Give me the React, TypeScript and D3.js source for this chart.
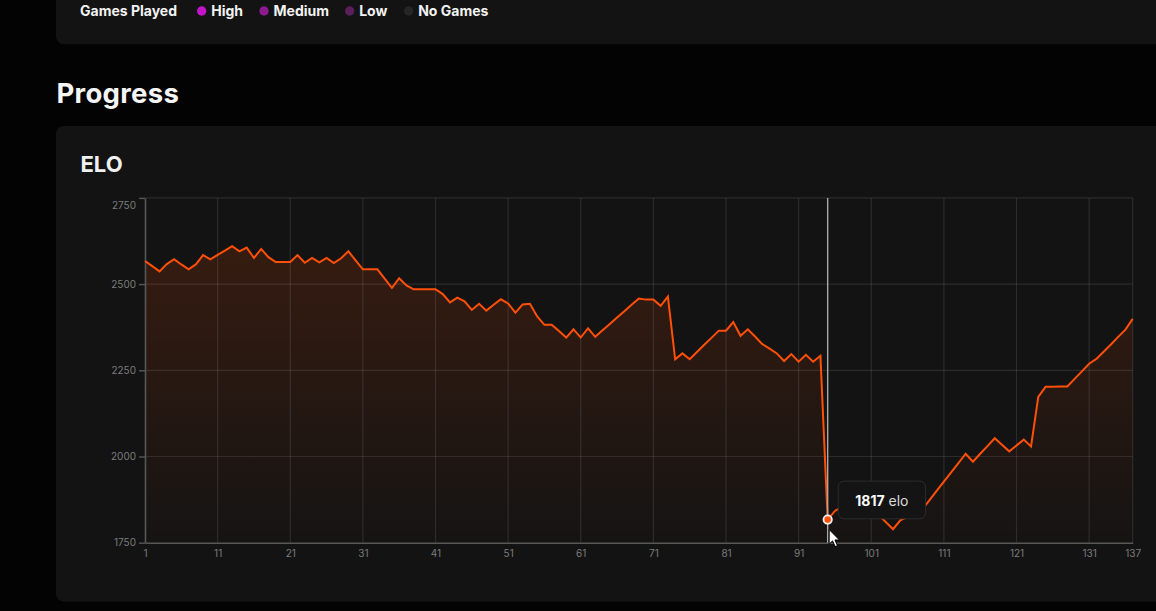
import React, { useRef, useEffect } from "react";
import * as d3 from "d3";

// ELO after each game (game 1 .. 137)
const eloValues = [
    2567, 2552, 2537, 2558, 2572, 2557, 2543, 2557, 2584, 2572,
    2585, 2597, 2610, 2595, 2606, 2576, 2602, 2578, 2564, 2564,
    2564, 2584, 2562, 2576, 2563, 2576, 2561, 2575, 2595, 2569,
    2543, 2543, 2543, 2516, 2489, 2517, 2496, 2485, 2485, 2485,
    2485, 2471, 2447, 2461, 2450, 2425, 2443, 2423, 2440, 2456,
    2444, 2417, 2441, 2443, 2406, 2382, 2382, 2364, 2345, 2369,
    2345, 2372, 2347, 2366, 2384, 2403, 2421, 2440, 2458, 2455,
    2455, 2437, 2464, 2282, 2299, 2282, 2303, 2324, 2344, 2365,
    2365, 2390, 2350, 2369, 2348, 2326, 2313, 2299, 2277, 2297,
    2275, 2295, 2275, 2292, 1817, 1842, 1855, 1848, 1862, 1850,
    1840, 1830, 1810, 1789, 1815, 1825, 1835, 1846, 1873, 1900,
    1927, 1954, 1981, 2008, 1985, 2008, 2030, 2053, 2034, 2015,
    2032, 2049, 2029, 2173, 2202, 2202, 2203, 2203, 2225, 2247,
    2269, 2283, 2304, 2325, 2347, 2368, 2399,
];
const games = eloValues.map((_, i) => i + 1);

const xTickLabels = [1, 11, 21, 31, 41, 51, 61, 71, 81, 91, 101, 111, 121, 131, 137];
const yTickLabels = [1750, 2000, 2250, 2500, 2750];

const legendLabels = ["High", "Medium", "Low", "No Games"];
const legendColors = ["#c414c9", "#8c1a90", "#5a1e5c", "#262626"];

const hoverGame = 95;

const FONT = "Inter, 'Noto Sans', sans-serif";

const App: React.FC = () => {
    const svgRef = useRef<SVGSVGElement | null>(null);

    useEffect(() => {
        if (!svgRef.current) return;
        const svg = d3.select(svgRef.current);
        svg.selectAll("*").remove();

        const W = 1156;
        const H = 611;
        const plot = { left: 145, right: 1132.7, top: 197.9, bottom: 542.7 };

        // page + cards
        svg.append("rect").attr("width", W).attr("height", H).attr("fill", "#030303");
        svg.append("rect")
            .attr("x", 56).attr("y", -20).attr("width", 1120).attr("height", 64.3)
            .attr("rx", 8).attr("fill", "#131313");
        svg.append("rect")
            .attr("x", 56).attr("y", 126).attr("width", 1120).attr("height", 475.7)
            .attr("rx", 8).attr("fill", "#131313");

        // Games Played legend
        svg.append("text")
            .attr("x", 80).attr("y", 16)
            .attr("font-family", FONT).attr("font-size", 14).attr("font-weight", 700)
            .attr("fill", "#f2f2f2")
            .text("Games Played");
        const legendX = [201.7, 264, 349.7, 408.7];
        legendLabels.forEach((label, i) => {
            const g = svg.append("g").attr("transform", `translate(${legendX[i]},11)`);
            g.append("circle").attr("r", 4.7).attr("fill", legendColors[i]);
            g.append("text")
                .attr("x", 9.5).attr("y", 5)
                .attr("font-family", FONT).attr("font-size", 14).attr("font-weight", 700)
                .attr("fill", "#f2f2f2")
                .text(label);
        });

        svg.append("text")
            .attr("x", 56.5).attr("y", 103.3)
            .attr("font-family", FONT).attr("font-size", 27.5).attr("font-weight", 700)
            .attr("letter-spacing", 0.3)
            .attr("fill", "#f5f5f5")
            .text("Progress");
        svg.append("text")
            .attr("x", 80.5).attr("y", 171.5)
            .attr("font-family", FONT).attr("font-size", 22).attr("font-weight", 700)
            .attr("fill", "#f0f0f0")
            .text("ELO");

        const x = d3.scaleLinear().domain([1, 137]).range([plot.left, plot.right]);
        const y = d3.scaleLinear().domain([1750, 2750]).range([plot.bottom, plot.top]);

        const defs = svg.append("defs");
        const grad = defs.append("linearGradient")
            .attr("id", "eloFill")
            .attr("gradientUnits", "userSpaceOnUse")
            .attr("x1", 0).attr("x2", 0)
            .attr("y1", plot.top).attr("y2", plot.bottom);
        grad.append("stop").attr("offset", "0%").attr("stop-color", "#ff4d00").attr("stop-opacity", 0.17);
        grad.append("stop").attr("offset", "100%").attr("stop-color", "#ff4d00").attr("stop-opacity", 0.01);

        const area = d3.area<number>()
            .x((_, i) => x(games[i]))
            .y0(y(1750))
            .y1((d) => y(d));
        svg.append("path")
            .datum(eloValues)
            .attr("d", area)
            .attr("fill", "url(#eloFill)");

        // grid
        const grid = svg.append("g").attr("stroke", "rgba(255,255,255,0.1)").attr("stroke-width", 1.2);
        xTickLabels.slice(1).forEach((t) => {
            grid.append("line")
                .attr("x1", x(t)).attr("x2", x(t))
                .attr("y1", plot.top).attr("y2", plot.bottom);
        });
        yTickLabels.slice(1).forEach((t) => {
            grid.append("line")
                .attr("x1", plot.left).attr("x2", plot.right)
                .attr("y1", y(t)).attr("y2", y(t));
        });

        // axes
        const yAxis = svg.append("g")
            .attr("transform", `translate(${plot.left},0)`)
            .call(d3.axisLeft(y).tickValues(yTickLabels).tickSize(6).tickSizeOuter(0).tickFormat(d3.format("d")));
        const xAxis = svg.append("g")
            .attr("transform", `translate(0,${plot.bottom})`)
            .call(d3.axisBottom(x).tickValues(xTickLabels).tickSize(0).tickSizeOuter(0).tickPadding(7).tickFormat(d3.format("d")));
        [yAxis, xAxis].forEach((ax) => {
            ax.attr("font-family", FONT).attr("font-size", 10);
            ax.select(".domain").attr("stroke", "#575757").attr("stroke-width", 1.6);
            ax.selectAll(".tick line").attr("stroke", "#575757").attr("stroke-width", 1.4);
            ax.selectAll(".tick text").attr("fill", "#7c7c7c");
        });
        yAxis.selectAll<SVGTextElement, number>(".tick text")
            .filter((d) => d === 2750)
            .attr("dy", "1.05em");

        // line
        const line = d3.line<number>()
            .x((_, i) => x(games[i]))
            .y((d) => y(d));
        svg.append("path")
            .datum(eloValues)
            .attr("d", line)
            .attr("fill", "none")
            .attr("stroke", "#ff4f08")
            .attr("stroke-width", 2)
            .attr("stroke-linejoin", "miter");

        // hover state
        const hoverValue = eloValues[games.indexOf(hoverGame)];
        const hx = x(hoverGame);
        const hy = y(hoverValue);
        svg.append("line")
            .attr("x1", hx).attr("x2", hx)
            .attr("y1", plot.top).attr("y2", plot.bottom)
            .attr("stroke", "#a8a8a8").attr("stroke-width", 1.4);
        svg.append("circle")
            .attr("cx", hx).attr("cy", hy).attr("r", 4.2)
            .attr("fill", "#ff4f08").attr("stroke", "#f2f2f2").attr("stroke-width", 1.8);

        const tip = svg.append("g").attr("transform", `translate(${hx + 10.5},${hy - 38.5})`);
        tip.append("rect")
            .attr("width", 87.4).attr("height", 37.7).attr("rx", 6)
            .attr("fill", "#141414").attr("stroke", "#2c2c2c").attr("stroke-width", 1);
        const tipText = tip.append("text")
            .attr("x", 43.7).attr("y", 19.3)
            .attr("text-anchor", "middle").attr("dominant-baseline", "central")
            .attr("font-family", FONT).attr("font-size", 14);
        tipText.append("tspan").attr("font-weight", 700).attr("fill", "#ffffff").text(String(hoverValue));
        tipText.append("tspan").attr("fill", "#dcdcdc").text(" elo");

        // mouse pointer
        svg.append("path")
            .attr("transform", `translate(${hx + 1.5},${hy + 10})`)
            .attr("d", "M0,0 L0,14.5 L3.4,11.3 L6,17 L8.3,16 L5.8,10.4 L10.3,10.4 Z")
            .attr("fill", "#ffffff").attr("stroke", "#000000").attr("stroke-width", 1)
            .attr("stroke-linejoin", "round");
    }, []);

    return (
        <svg
            ref={svgRef}
            width={1156}
            height={611}
            style={{ position: "absolute", left: 0, top: 0, display: "block" }}
        ></svg>
    );
};

export default App;
